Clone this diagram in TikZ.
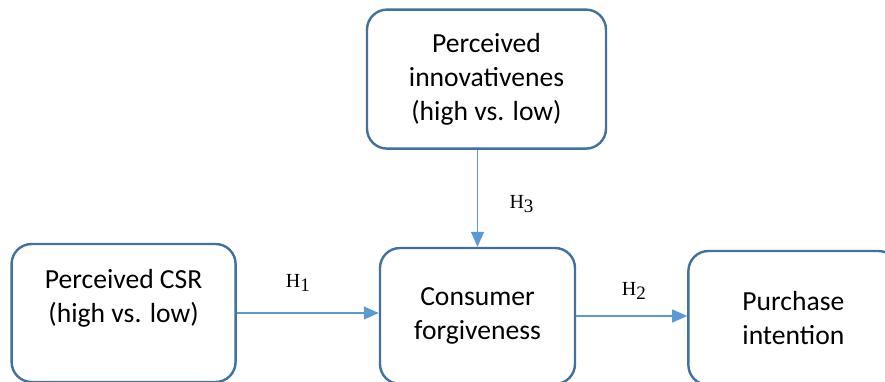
\documentclass[tikz,border=0pt]{standalone}
\usepackage{fontspec}
\setmainfont{Carlito}
\newfontfamily\hypfont{Liberation Serif}
\usetikzlibrary{arrows.meta,positioning}
\definecolor{BoxLine}{HTML}{41719C}
\definecolor{ArrowBlue}{HTML}{5B9BD5}
\newcommand{\hyplabel}[1]{{\hypfont H\raisebox{-0.4ex}{\fontsize{9.5}{10}\selectfont #1}}}

\begin{document}
\begin{tikzpicture}[
  x=0.5pt,y=-0.5pt,
  every node/.style={font=\fontsize{13.8}{17}\selectfont},
  box/.style={draw=BoxLine,line width=1.2pt,rounded corners=10pt,fill=white,align=center,inner sep=0pt},
  arr/.style={-{Triangle[length=7.5pt,width=6.5pt]},line width=0.7pt,color=ArrowBlue},
  hyp/.style={font=\fontsize{10}{12}\selectfont,text=black}
]
\useasboundingbox (0,0) rectangle (885,381);
\clip (0,0) rectangle (885,381);
\node[box,minimum width=97.5pt,minimum height=68pt] (forgive) at (477.5,316) {Consumer\\forgiveness};
\node[box,minimum width=112pt,minimum height=69pt,left=71pt of forgive,yshift=1.5pt] (csr) {Perceived CSR\\(high vs. low)\\\mbox{}};
\node[box,minimum width=105pt,minimum height=67pt,right=55.5pt of forgive,yshift=-1pt] (intent) {Purchase\\intention};
\node[box,minimum width=119.5pt,minimum height=69.5pt,above=48.5pt of forgive,xshift=4.5pt] (innov) {Perceived\\innovativenes\\(high vs. low)};
\draw[arr] (csr.east) -- (csr.east -| forgive.west) node[hyp,pos=0.43,yshift=15pt] (h1) {\hyplabel{1}};
\draw[arr] (forgive.east) -- (forgive.east -| intent.west) node[hyp,pos=0.52,yshift=12.5pt] (h2) {\hyplabel{2}};
\draw[arr] (forgive.north |- innov.south) -- (forgive.north) node[hyp,pos=0.56,xshift=22pt] (h3) {\hyplabel{3}};
\end{tikzpicture}
\end{document}
